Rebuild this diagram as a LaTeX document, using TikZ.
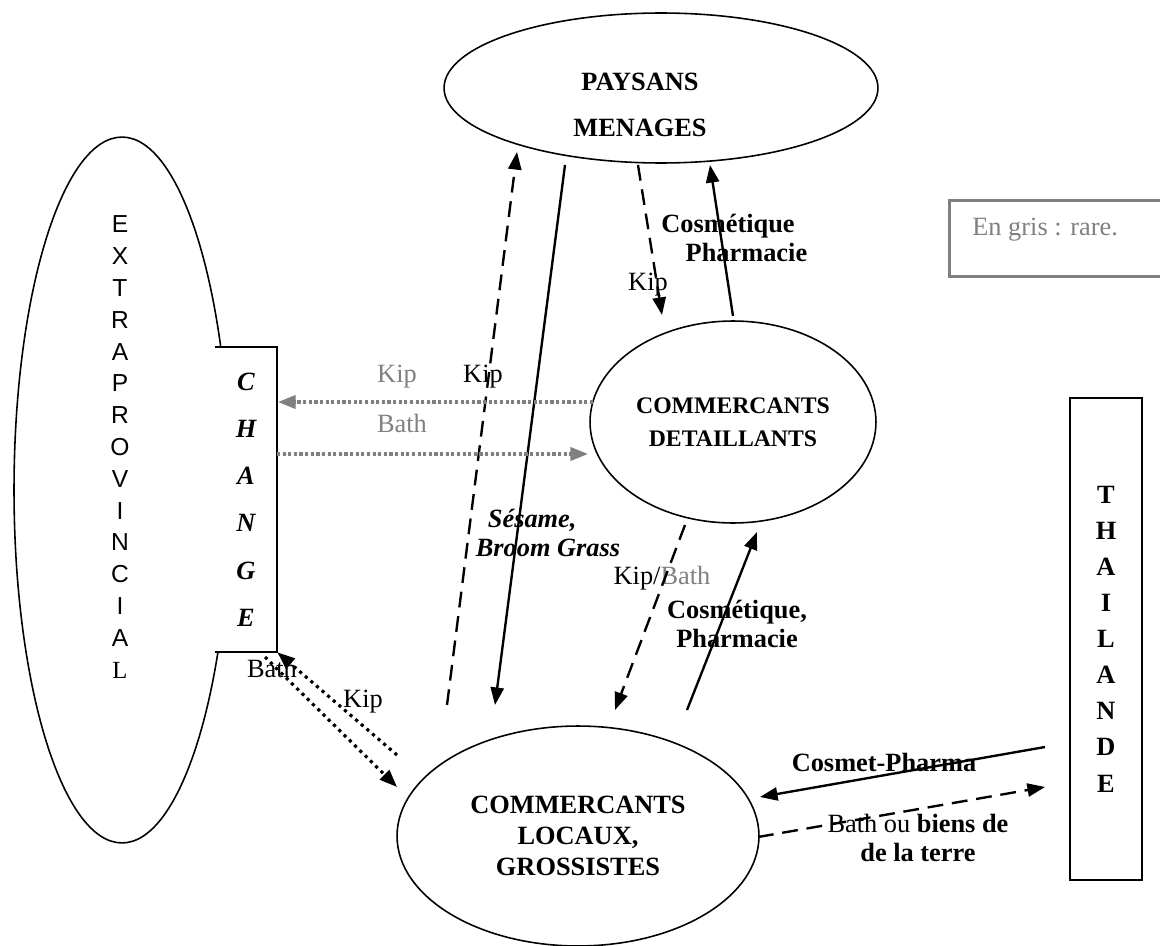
\documentclass[tikz,border=0pt]{standalone}
\usepackage{fontspec}
\setmainfont{Liberation Serif}
\newfontfamily\arialfont{Liberation Sans}
\usepackage{xcolor}
\definecolor{raregray}{HTML}{808080}
\usepackage{tikz}
\usetikzlibrary{shapes.geometric, arrows.meta, positioning}

\begin{document}
\begin{tikzpicture}[x=0.02cm, y=-0.02cm,
  actor/.style={ellipse, draw, line width=0.9pt, inner sep=0pt, align=center,
    font=\fontsize{15}{17.6}\selectfont\bfseries},
  tag/.style={inner sep=0pt, align=center, font=\fontsize{15}{17}\selectfont},
  boldtag/.style={tag, font=\fontsize{15}{17}\selectfont\bfseries},
  flow/.style={-{Triangle[length=10pt, width=7.5pt]}, line width=1.35pt},
  dashflow/.style={flow, dash pattern=on 9pt off 5pt},
  dotflow/.style={flow, line width=1.8pt, dash pattern=on 1.8pt off 2.4pt},
  rareflow/.style={flow, draw=raregray, fill=raregray, line width=1.8pt,
    dash pattern=on 1.8pt off 1.4pt}
]
\useasboundingbox (0,0) rectangle (1160,946);

\node[actor, minimum width=4.32cm, minimum height=14.12cm] (ext) at (122,490) {};
\node[inner sep=0pt, align=center, font=\arialfont\fontsize{14}{18.1}\selectfont] (exttxt) at (120,447)
  {E\\X\\T\\R\\A\\P\\R\\O\\V\\I\\N\\C\\I\\A\\{\rmfamily L}};
\node[fill=white, minimum width=1.24cm, minimum height=6.1cm, inner sep=0pt, align=center,
  font=\fontsize{15}{26.9}\selectfont\bfseries\itshape] (chg) at (246,499.5) {C\\H\\A\\N\\G\\E};
\draw[line width=1.1pt] (chg.north west) -- (chg.north east) -- (chg.south east) -- (chg.south west);

\node[actor, minimum width=8.68cm, minimum height=3cm] (pay) at (661,88) {};
\node[boldtag, font=\fontsize{15}{26}\selectfont\bfseries] (paytxt) at (640,105) {PAYSANS\\MENAGES};
\node[actor, minimum width=5.72cm, minimum height=4.04cm, font=\fontsize{13.5}{18.7}\selectfont\bfseries]
  (det) at (733,422) {COMMERCANTS\\DETAILLANTS};
\node[actor, minimum width=7.24cm, minimum height=4.4cm] (loc) at (578,836) {COMMERCANTS\\LOCAUX,\\GROSSISTES};
\node[draw, line width=1.1pt, minimum width=1.44cm, minimum height=9.64cm, inner sep=0pt, align=center,
  font=\fontsize{15}{20.55}\selectfont\bfseries] (tha) at (1106,639) {T\\H\\A\\I\\L\\A\\N\\D\\E};

\node[draw=raregray, line width=1.7pt, minimum width=4.3cm, minimum height=1.54cm] (leg) at (1057,238.5) {};
\node[tag, anchor=west, text=raregray] (legtxt) at (972,230) {En gris : rare.};

\coordinate (l1) at (447,705);  \coordinate (p1) at (517,152);
\coordinate (p2) at (565,165);  \coordinate (l2) at (495,705);
\coordinate (p3) at (638,165);  \coordinate (d1) at (662,315);
\coordinate (d2) at (733,316);  \coordinate (p4) at (710,165);
\coordinate (d3) at (593,402);  \coordinate (c1) at (278,402);
\coordinate (c2) at (277,454);  \coordinate (d4) at (588,454);
\coordinate (d5) at (685,525);  \coordinate (l3) at (615,710);
\coordinate (l4) at (687,710);  \coordinate (d6) at (757,532);
\coordinate (l5) at (397,755);
\coordinate (c3) at (265,657);  \coordinate (l6) at (397,787);
\coordinate (t1) at (1045,747); \coordinate (l7) at (760,797);
\coordinate (l8) at (758,837);  \coordinate (t2) at (1045,787);

\node[tag, text=raregray] (kipr) at (397,377) {Kip};
\node[tag, text=raregray] (bathr) at (402,423) {Bath};
\node[tag] (kipa) at (483,377) {Kip};
\node[boldtag, font=\fontsize{15}{17}\selectfont\bfseries\itshape] (ses) at (548,533) {\hspace*{-1.2em}Sésame,\\Broom Grass};
\node[tag] (kipb) at (648,285) {Kip};
\node[boldtag] (cosa) at (728,238) {Cosmétique\\\hspace*{1.4em}Pharmacie};
\node[tag] (kipc) at (662,578) {Kip/\textcolor{raregray}{Bath}};
\node[boldtag, font=\fontsize{15}{16}\selectfont\bfseries] (cosb) at (737,624) {Cosmétique,\\Pharmacie};
\node[tag] (bathc) at (272,668) {Bath};
\node[tag] (kipd) at (363,702) {Kip};
\node[boldtag] (cosc) at (884,762) {Cosmet-Pharma};
\node[tag] (bien) at (918,838) {Bath ou \textbf{biens de}\\\textbf{de la terre}};

\draw[dashflow] (l1) -- (p1);
\draw[flow] (p2) -- (l2);
\draw[dashflow] (p3) -- (d1);
\draw[flow] (d2) -- (p4);
\draw[rareflow] (d3) -- (c1);
\draw[rareflow] (c2) -- (d4);
\draw[dashflow] (d5) -- (l3);
\draw[flow] (l4) -- (d6);
\draw[dotflow] (l5) -- (chg.south east);
\draw[dotflow] (c3) -- (l6);
\draw[flow] (t1) -- (l7);
\draw[dashflow] (l8) -- (t2);
\end{tikzpicture}
\end{document}
